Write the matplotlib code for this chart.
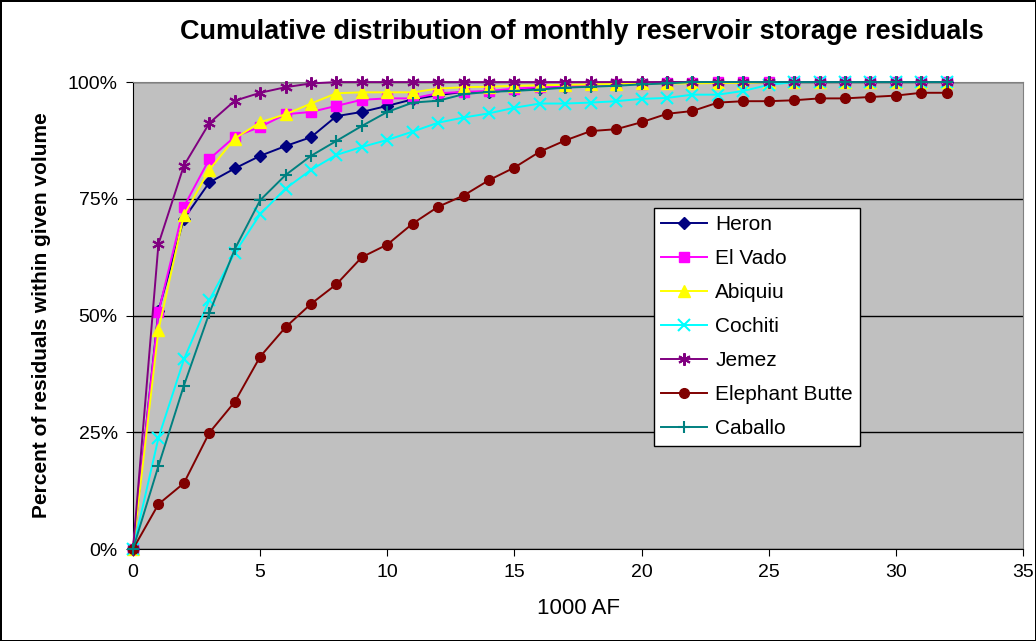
import matplotlib
matplotlib.use('Agg')
from matplotlib import pyplot as plt
from matplotlib.ticker import PercentFormatter

plt.rcParams['font.family'] = ['Liberation Sans', 'DejaVu Sans']

volume = [0, 1, 2, 3, 4, 5, 6, 7, 8, 9, 10, 11, 12, 13, 14, 15, 16,
          17, 18, 19, 20, 21, 22, 23, 24, 25, 26, 27, 28, 29, 30, 31, 32]

heron = [0, 51.0, 70.7, 78.5, 81.5, 84.2, 86.3, 88.2, 92.7, 93.6, 94.9, 96.3, 97.2, 97.9, 97.8, 98.4, 98.8,
         99.0, 99.3, 99.5, 99.8, 100, 100, 100, 100, 100, 100, 100, 100, 100, 100, 100, 100]
el_vado = [0, 50.7, 73.3, 83.5, 88.3, 90.4, 93.1, 93.6, 94.9, 96.2, 96.5, 96.5, 97.6, 97.9, 98.1, 98.6, 98.9,
           99.1, 99.3, 99.5, 99.6, 99.8, 99.8, 100, 100, 100, 100, 100, 100, 100, 100, 100, 100]
abiquiu = [0, 46.9, 71.5, 81.2, 87.9, 91.4, 93.1, 95.4, 97.6, 97.8, 97.8, 97.8, 98.6, 98.9, 99.0, 99.2, 99.3,
           99.4, 99.5, 99.6, 99.7, 99.7, 99.7, 99.8, 99.8, 100, 100, 100, 100, 100, 100, 100, 100]
cochiti = [0, 23.8, 40.6, 53.3, 63.4, 71.7, 77.2, 81.2, 84.4, 86.1, 87.6, 89.4, 91.3, 92.4, 93.3, 94.5, 95.4,
           95.4, 95.6, 95.9, 96.4, 96.6, 97.3, 97.3, 98.1, 99.4, 100, 100, 100, 100, 100, 100, 100]
jemez = [0, 65.3, 82.1, 91.2, 96.0, 97.7, 98.9, 99.7, 100, 100, 100, 100, 100, 100, 100, 100, 100,
         100, 100, 100, 100, 100, 100, 100, 100, 100, 100, 100, 100, 100, 100, 100, 100]
elephant_butte = [0, 9.6, 14.1, 24.9, 31.5, 41.2, 47.5, 52.5, 56.7, 62.5, 65.2, 69.7, 73.3, 75.7, 79.0, 81.7, 85.1,
                  87.5, 89.5, 89.9, 91.4, 93.2, 93.8, 95.6, 95.9, 95.9, 96.1, 96.5, 96.5, 96.8, 97.1, 97.7, 97.7]
caballo = [0, 17.8, 35.0, 50.5, 64.2, 74.7, 80.1, 84.2, 87.4, 90.6, 93.6, 95.6, 96.0, 97.4, 97.9, 98.1, 98.4,
           98.8, 99.0, 99.2, 99.5, 99.7, 100, 100, 100, 100, 100, 100, 100, 100, 100, 100, 100]

series = [
    ('Heron', heron, '#000080', 'D', 6),
    ('El Vado', el_vado, '#FF00FF', 's', 7),
    ('Abiquiu', abiquiu, '#FFFF00', '^', 8),
    ('Cochiti', cochiti, '#00FFFF', 'x', 8),
    ('Jemez', jemez, '#800080', (6, 2, 0), 9),
    ('Elephant Butte', elephant_butte, '#800000', 'o', 7),
    ('Caballo', caballo, '#008080', '+', 9),
]

fig = plt.figure(figsize=(10.36, 6.41), dpi=100)
fig.patch.set_edgecolor('black')
fig.patch.set_linewidth(2)
ax = fig.add_axes([0.1284, 0.1435, 0.8591, 0.7285])
ax.set_facecolor('#C0C0C0')

for name, vals, col, mk, ms in series:
    ax.plot(volume, vals, color=col, marker=mk, markersize=ms, linewidth=1.4,
            markeredgewidth=1.5 if mk in ('x', '+', (6, 2, 0)) else 1,
            markeredgecolor=col, label=name, clip_on=False, zorder=3)

ax.set_xlim(0, 35)
ax.set_ylim(0, 100)
ax.set_xticks([0, 5, 10, 15, 20, 25, 30, 35])
ax.set_yticks([0, 25, 50, 75, 100])
ax.yaxis.set_major_formatter(PercentFormatter(decimals=0))
ax.grid(axis='y', color='black', linewidth=1, zorder=1)
ax.set_axisbelow(True)

for s in ('top', 'right'):
    ax.spines[s].set_color('#808080')
for s in ('left', 'bottom'):
    ax.spines[s].set_color('black')
ax.tick_params(labelsize=14, length=5, direction='out', pad=6)

fig.text(0.562, 0.95, 'Cumulative distribution of monthly reservoir storage residuals',
         fontsize=19.5, fontweight='bold', ha='center', va='center')
ax.set_xlabel('1000 AF', fontsize=16, labelpad=12)
ax.set_ylabel('Percent of residuals within given volume', fontsize=15, fontweight='bold', labelpad=12)

leg = ax.legend(loc='upper left', bbox_to_anchor=(0.585, 0.73), fontsize=15, frameon=True,
                fancybox=False, framealpha=1, edgecolor='black', handlelength=2.2,
                borderpad=0.35, labelspacing=0.72, handletextpad=0.4, borderaxespad=0)
leg.get_frame().set_linewidth(1)

plt.savefig('out.png', dpi=100)
